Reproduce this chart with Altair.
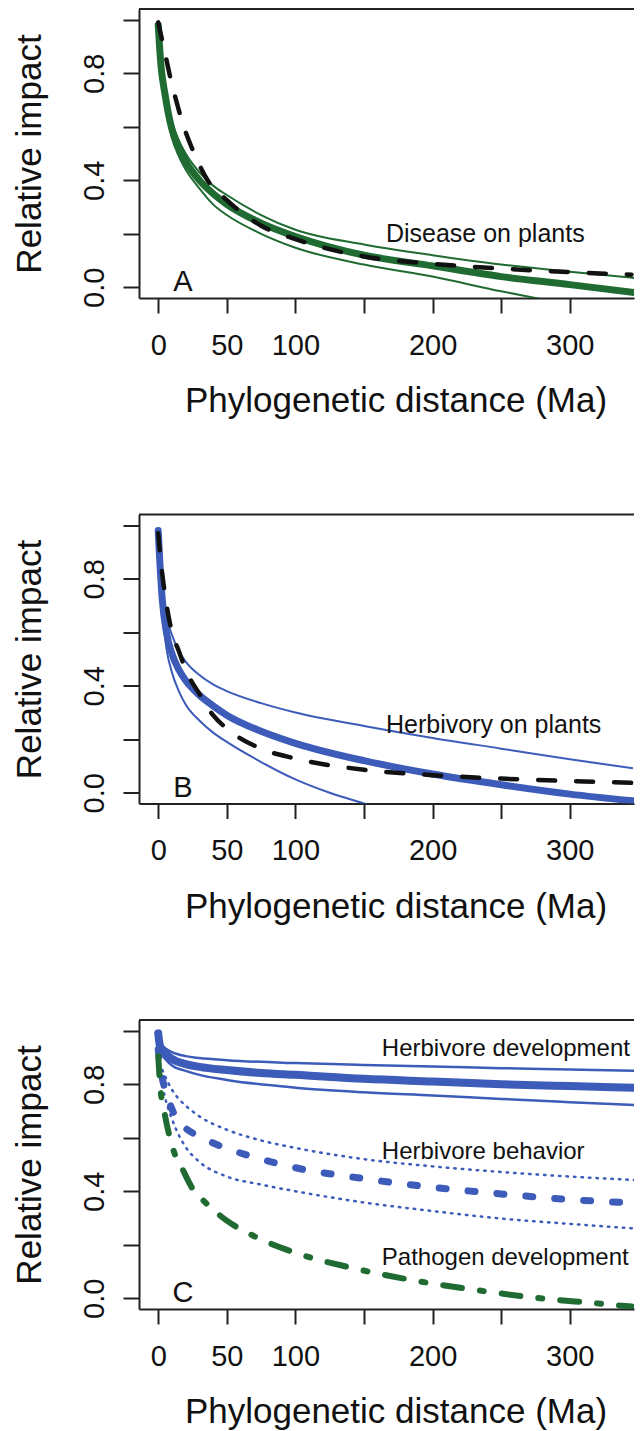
import altair as alt
import pandas as pd

GREEN = "#1f6b32"
BLUE = "#3d5bb8"
BLACK = "#111111"
AXC = "#222222"
FONT = "Liberation Sans"

XMIN, XMAX = -14, 346.8
YMIN, YMAX = -0.04, 1.04
W, H = 495, 289

# ---------------- Panel A: disease on plants ----------------
a_fit_x = [0, 2, 5, 10, 15, 20, 30, 40, 50, 75, 100, 150, 200, 250, 300, 347]
a_fit_y = [0.98, 0.83, 0.72, 0.59, 0.52, 0.47, 0.40, 0.35, 0.31, 0.24, 0.19, 0.12, 0.08, 0.04, 0.01, -0.02]
a_up_x = [0, 2, 5, 10, 15, 20, 30, 40, 50, 75, 100, 150, 200, 250, 300, 347]
a_up_y = [0.97, 0.84, 0.74, 0.62, 0.55, 0.50, 0.43, 0.38, 0.345, 0.27, 0.215, 0.16, 0.12, 0.085, 0.058, 0.035]
a_lo_x = [0, 2, 5, 10, 15, 20, 30, 40, 50, 75, 100, 150, 200, 250, 275, 300]
a_lo_y = [0.97, 0.82, 0.70, 0.56, 0.49, 0.44, 0.37, 0.31, 0.27, 0.20, 0.148, 0.085, 0.04, -0.015, -0.04, -0.065]
a_dash_x = [0, 3, 6, 9, 13, 18, 23, 28, 36, 50, 75, 100, 150, 200, 250, 300, 345]
a_dash_y = [0.99, 0.92, 0.85, 0.78, 0.70, 0.61, 0.54, 0.48, 0.40, 0.326, 0.23, 0.18, 0.115, 0.088, 0.07, 0.057, 0.047]

# ---------------- Panel B: herbivory on plants ----------------
b_fit_x = [0, 1, 3, 6, 10, 15, 20, 30, 40, 50, 75, 100, 150, 200, 250, 300, 346]
b_fit_y = [0.98, 0.88, 0.72, 0.60, 0.52, 0.46, 0.42, 0.365, 0.325, 0.29, 0.23, 0.185, 0.12, 0.07, 0.03, -0.005, -0.03]
b_up_x = [0, 1, 3, 6, 10, 15, 20, 30, 40, 50, 75, 100, 150, 200, 250, 300, 346]
b_up_y = [0.98, 0.89, 0.76, 0.66, 0.59, 0.53, 0.49, 0.44, 0.405, 0.38, 0.335, 0.30, 0.25, 0.205, 0.165, 0.125, 0.092]
b_lo_x = [0, 1, 3, 6, 10, 15, 20, 30, 40, 50, 75, 100, 125, 150, 175]
b_lo_y = [0.98, 0.86, 0.68, 0.54, 0.45, 0.38, 0.33, 0.27, 0.225, 0.19, 0.115, 0.05, 0.0, -0.04, -0.08]
b_dash_x = [0, 2, 5, 10, 15, 20, 30, 40, 50, 75, 100, 150, 200, 250, 300, 346]
b_dash_y = [0.97, 0.86, 0.74, 0.60, 0.53, 0.46, 0.37, 0.29, 0.24, 0.165, 0.128, 0.086, 0.066, 0.053, 0.044, 0.037]

# ---------------- Panel C: development / behaviour ----------------
c_dev_x = [0, 1, 3, 5, 10, 20, 30, 50, 75, 100, 150, 200, 250, 300, 347]
c_dev_y = [0.99, 0.95, 0.925, 0.915, 0.895, 0.875, 0.865, 0.853, 0.842, 0.835, 0.82, 0.81, 0.80, 0.793, 0.787]
c_devup_x = [1, 3, 5, 10, 20, 30, 50, 100, 150, 200, 250, 300, 347]
c_devup_y = [0.955, 0.945, 0.935, 0.92, 0.905, 0.898, 0.89, 0.879, 0.872, 0.866, 0.86, 0.855, 0.85]
c_devlo_x = [1, 3, 5, 10, 20, 30, 50, 100, 150, 200, 250, 300, 347]
c_devlo_y = [0.94, 0.91, 0.895, 0.87, 0.85, 0.835, 0.816, 0.787, 0.77, 0.758, 0.745, 0.733, 0.722]
c_beh_x = [0, 2, 5, 9, 14, 20, 30, 50, 65, 100, 150, 200, 250, 300, 347]
c_beh_y = [0.93, 0.85, 0.78, 0.72, 0.665, 0.635, 0.605, 0.56, 0.535, 0.488, 0.447, 0.415, 0.39, 0.369, 0.356]
c_behup_x = [1, 5, 10, 15, 20, 30, 50, 75, 100, 150, 200, 250, 300, 347]
c_behup_y = [0.88, 0.83, 0.78, 0.745, 0.72, 0.68, 0.63, 0.59, 0.562, 0.52, 0.493, 0.472, 0.455, 0.442]
c_behlo_x = [1, 5, 10, 15, 20, 30, 50, 75, 100, 150, 200, 250, 300, 347]
c_behlo_y = [0.85, 0.75, 0.67, 0.61, 0.565, 0.51, 0.455, 0.425, 0.40, 0.358, 0.326, 0.298, 0.278, 0.261]
c_path_x = [0, 1.5, 4, 8, 12, 17, 25, 35, 50, 70, 100, 140, 185, 230, 275, 320, 345]
c_path_y = [0.905, 0.79, 0.71, 0.61, 0.54, 0.49, 0.41, 0.355, 0.29, 0.232, 0.17, 0.115, 0.068, 0.032, 0.002, -0.019, -0.031]

# ---------------- texts ----------------
a_text = ["Disease on plants"]; a_text_x = [166]; a_text_y = [0.200]
b_text = ["Herbivory on plants"]; b_text_x = [166]; b_text_y = [0.252]
c_text = ["Herbivore development", "Herbivore behavior", "Pathogen development"]
c_text_x = [163, 163, 163]; c_text_y = [0.931, 0.548, 0.149]
panel_letters = ["A", "B", "C"]; letter_x = 18; letter_y = 0.018

x_ticks = [0, 50, 100, 150, 200, 250, 300]
x_labelled = [0, 50, 100, 200, 300]
y_ticks = [0, 0.2, 0.4, 0.6, 0.8, 1.0]
x_title = "Phylogenetic distance (Ma)"
y_title = "Relative impact"

xscale = alt.Scale(domain=[XMIN, XMAX], nice=False, zero=False)
yscale = alt.Scale(domain=[YMIN, YMAX], nice=False, zero=False)


def line(xs, ys, color, width, dash=None, cap="butt"):
    df = pd.DataFrame({"x": xs, "y": ys})
    kw = dict(color=color, strokeWidth=width, strokeCap=cap, clip=True,
              interpolate="monotone", strokeJoin="round")
    if dash:
        kw["strokeDash"] = dash
    return alt.Chart(df).mark_line(**kw).encode(
        x=alt.X("x:Q", scale=xscale, axis=None),
        y=alt.Y("y:Q", scale=yscale, axis=None),
    )


def texts(labels, xs, ys, size, align="left"):
    df = pd.DataFrame({"t": labels, "x": xs, "y": ys})
    return alt.Chart(df).mark_text(
        font=FONT, fontSize=size, align=align, baseline="middle", color=BLACK, clip=True
    ).encode(
        x=alt.X("x:Q", scale=xscale, axis=None),
        y=alt.Y("y:Q", scale=yscale, axis=None),
        text="t:N",
    )


def axes():
    df = pd.DataFrame({"x": [0.0], "y": [0.0]})
    xlab = "indexof(" + str(x_labelled) + ", datum.value) >= 0 ? datum.label : ''"
    ylab = "indexof([0,4,8], round(datum.value*10)) >= 0 ? format(datum.value, '.1f') : ''"
    bottom = alt.Chart(df).mark_point(opacity=0).encode(
        x=alt.X("x:Q", scale=xscale, axis=alt.Axis(
            values=x_ticks, labelExpr=xlab, grid=False, orient="bottom",
            tickSize=15, tickWidth=2, tickColor=AXC, domainWidth=2, domainColor=AXC,
            labelFont=FONT, labelFontSize=29, labelColor=BLACK, labelBaseline="alphabetic",
            labelPadding=41, labelOverlap=False, labelFlush=False,
            title=x_title, titleFont=FONT, titleFontSize=35, titleFontWeight="normal",
            titleColor=BLACK, titleBaseline="alphabetic", titleAlign="center",
            titleX=256.5, titleY=113.5)),
        y=alt.Y("y:Q", scale=yscale, axis=alt.Axis(
            values=y_ticks, labelExpr=ylab, grid=False, orient="left",
            tickSize=16, tickWidth=2, tickColor=AXC, domainWidth=2, domainColor=AXC,
            labelFont=FONT, labelFontSize=29, labelColor=BLACK, labelAngle=270,
            labelAlign="center", labelBaseline="alphabetic", labelPadding=20,
            labelOverlap=False, labelFlush=False,
            title=y_title, titleFont=FONT, titleFontSize=35, titleFontWeight="normal",
            titleColor=BLACK, titleAngle=270, titleBaseline="alphabetic", titleAlign="center",
            titleX=-99, titleY=H / 2)),
    )
    # top side of the plot box, drawn at the y-scale's upper limit
    top = alt.Chart(df).mark_rule(color=AXC, strokeWidth=2).encode(
        x=alt.datum(XMIN, scale=xscale, axis=None),
        x2=alt.datum(XMAX),
        y=alt.datum(YMAX, scale=yscale, axis=None),
    )
    return [bottom, top]


def panel(layers, letter):
    lt = texts([letter], [letter_x], [letter_y], 29, align="center")
    return (alt.layer(*axes(), *layers, lt)
            .resolve_axis(x="independent", y="independent")
            .properties(width=W, height=H))


pA = panel([
    line(a_up_x, a_up_y, GREEN, 2),
    line(a_lo_x, a_lo_y, GREEN, 2),
    line(a_fit_x, a_fit_y, GREEN, 7, cap="round"),
    line(a_dash_x, a_dash_y, BLACK, 4.5, dash=[17, 21], cap="round"),
    texts(a_text, a_text_x, a_text_y, 25),
], "A")

pB = panel([
    line(b_up_x, b_up_y, BLUE, 2),
    line(b_lo_x, b_lo_y, BLUE, 2),
    line(b_fit_x, b_fit_y, BLUE, 7, cap="round"),
    line(b_dash_x, b_dash_y, BLACK, 4.5, dash=[17, 21], cap="round"),
    texts(b_text, b_text_x, b_text_y, 25),
], "B")

pC = panel([
    line(c_devup_x, c_devup_y, BLUE, 2.5),
    line(c_devlo_x, c_devlo_y, BLUE, 2.5),
    line(c_dev_x, c_dev_y, BLUE, 8, cap="round"),
    line(c_behup_x, c_behup_y, BLUE, 2.5, dash=[1.5, 6], cap="round"),
    line(c_behlo_x, c_behlo_y, BLUE, 2.5, dash=[1.5, 6], cap="round"),
    line(c_beh_x, c_beh_y, BLUE, 7, dash=[7, 22], cap="round"),
    line(c_path_x, c_path_y, GREEN, 6, dash=[19, 18, 4, 18], cap="round"),
    texts(c_text, c_text_x, c_text_y, 24),
], "C")

chart = alt.vconcat(pA, pB, pC, spacing=94.5).properties(
    padding={"left": 4, "top": 0, "right": 0, "bottom": 0},
    background="white",
).configure_view(strokeWidth=0)

chart.save("out.html", embed_options={"renderer": "svg", "actions": False})
